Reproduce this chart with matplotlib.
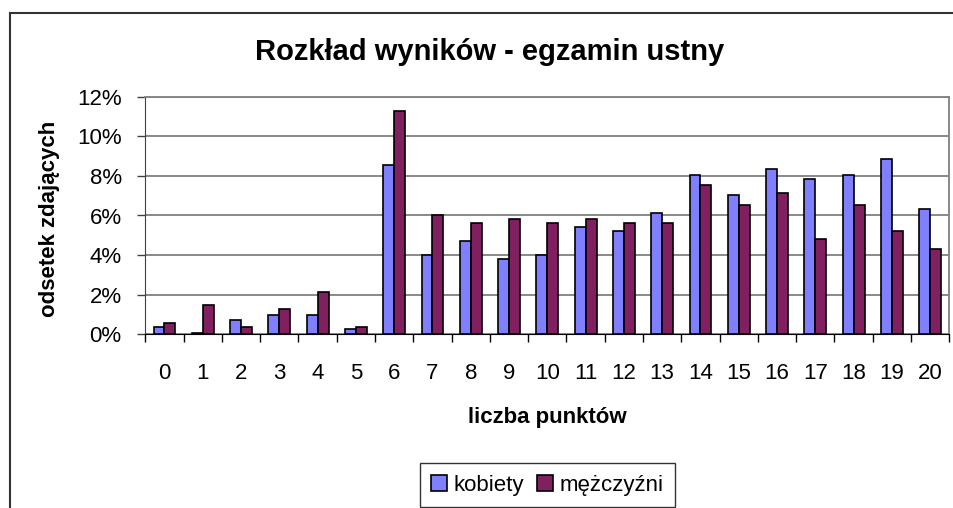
import numpy as np
import matplotlib
matplotlib.use("Agg")
import matplotlib.pyplot as plt
from matplotlib.ticker import PercentFormatter, MultipleLocator
from matplotlib.lines import Line2D

plt.rcParams['font.family'] = ['Liberation Sans', 'DejaVu Sans']

# score categories and shares (in %)
punkty = np.arange(21)
kobiety = [0.39, 0.08, 0.71, 0.99, 0.99, 0.29, 8.55, 4.02, 4.71, 3.82, 4.02,
           5.43, 5.23, 6.13, 8.03, 7.04, 8.35, 7.85, 8.03, 8.86, 6.35]
mezczyzni = [0.59, 1.50, 0.39, 1.29, 2.12, 0.39, 11.28, 6.02, 5.63, 5.83, 5.63,
             5.83, 5.63, 5.63, 7.53, 6.54, 7.14, 4.82, 6.54, 5.23, 4.30]
seria = ["kobiety", "mężczyźni"]

W, H = 954, 508
fig = plt.figure(figsize=(W / 100, H / 100), dpi=100)
ax = fig.add_axes([145.3 / W, 1 - 334.3 / H, (949.3 - 145.3) / W, (334.3 - 96.7) / H])

w = 0.2857
ax.bar(punkty - w / 2, kobiety, width=w, color="#8080FF", edgecolor="black",
       linewidth=1.2, label=seria[0], zorder=3)
ax.bar(punkty + w / 2, mezczyzni, width=w, color="#802060", edgecolor="black",
       linewidth=1.2, label=seria[1], zorder=3)

ax.set_xlim(-0.5, 20.5)
ax.set_ylim(0, 12)
ax.yaxis.set_major_locator(MultipleLocator(2))
ax.yaxis.set_major_formatter(PercentFormatter(xmax=100, decimals=0))
ax.grid(axis="y", color="#808080", linewidth=1.3, zorder=0)

# labels at category centres, ticks at category boundaries
ax.set_xticks(punkty)
ax.set_xticklabels([str(p) for p in punkty])
ax.set_xticks(np.arange(-0.5, 21, 1), minor=True)
ax.tick_params(axis="x", which="major", length=0, pad=21, labelsize=16)
ax.tick_params(axis="x", which="minor", length=6, width=1, color="black")
ax.tick_params(axis="y", length=6, width=1, color="#404040", pad=11, labelsize=16)

for s in ["top", "right"]:
    ax.spines[s].set_color("#808080")
    ax.spines[s].set_linewidth(1.3)
ax.spines["left"].set_color("#404040")
ax.spines["bottom"].set_color("black")

fig.text(490 / W, 1 - 52 / H, "Rozkład wyników - egzamin ustny",
         ha="center", va="center", fontsize=21, fontweight="bold")
fig.text(547 / W, 1 - 417 / H, "liczba punktów", ha="center", va="center",
         fontsize=16, fontweight="bold")
fig.text(50 / W, 1 - 219 / H, "odsetek zdających", ha="center", va="center",
         rotation=90, fontsize=16, fontweight="bold")

leg = fig.legend(loc="center", bbox_to_anchor=(547.5 / W, 1 - 485 / H), ncol=2,
                 fontsize=16, frameon=True, fancybox=False, handlelength=0.7,
                 handleheight=0.7, handletextpad=0.3, columnspacing=0.6,
                 borderpad=0.5, borderaxespad=0)
leg.get_frame().set_edgecolor("black")
leg.get_frame().set_linewidth(1.0)

# chart area border (cropped at right and bottom)
fig.add_artist(Line2D([10 / W, 10 / W], [0, 1 - 12.7 / H], color="#333333",
                      linewidth=1.5, transform=fig.transFigure))
fig.add_artist(Line2D([10 / W, 1], [1 - 12.7 / H, 1 - 12.7 / H], color="#333333",
                      linewidth=1.5, transform=fig.transFigure))

fig.savefig("out.png", dpi=100)
